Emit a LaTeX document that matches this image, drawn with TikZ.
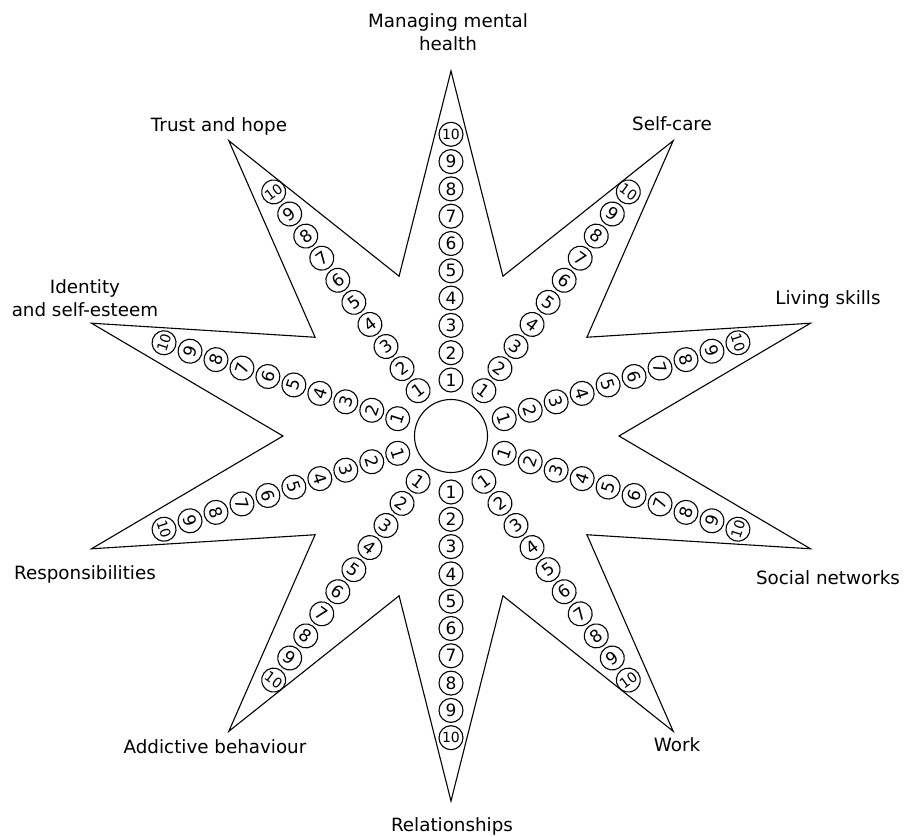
\documentclass[tikz,border=0pt]{standalone}
\usepackage{fontspec}
\setmainfont{DejaVu Sans}
\usetikzlibrary{positioning}

\tikzset{
  ring/.style={circle,draw,minimum size=24pt,inner sep=0pt,font=\fontsize{17}{17}\selectfont},
  armtext/.style={font=\fontsize{18.3}{23}\selectfont,align=center,inner sep=0pt}
}

\begin{document}
\begin{tikzpicture}[x=1pt,y=1pt,line width=1.1pt,line join=miter]
    \useasboundingbox (-451,-401) rectangle (453,436);

    % tips and dips of the star
    \foreach \i in {0,...,9} {
        \pgfmathsetmacro\ao{90-36*\i}
        \pgfmathsetmacro\ai{72-36*\i}
        \coordinate (tip\i) at ({378*cos(\ao)},{365*sin(\ao)});
        \coordinate (dip\i) at ({168*cos(\ai)},{168*sin(\ai)});
    }
    \draw (tip0) -- (dip0) -- (tip1) -- (dip1) -- (tip2) -- (dip2) -- (tip3) -- (dip3)
          -- (tip4) -- (dip4) -- (tip5) -- (dip5) -- (tip6) -- (dip6) -- (tip7) -- (dip7)
          -- (tip8) -- (dip8) -- (tip9) -- (dip9) -- cycle;

    \node[circle,draw,minimum size=73pt,inner sep=0pt] (hub) at (0,0) {};

    % numbered rings along each arm
    \foreach \i in {0,...,9} {
        \pgfmathsetmacro\ao{90-36*\i}
        \pgfmathsetmacro\rot{sin(\ao)>0 ? \ao-90 : \ao+90}
        \foreach \k in {1,...,10} {
            \node[ring,rotate=\rot] (r\i-\k) at (\ao:{56+27.3*(\k-1)})
                {\ifnum\k<10 \k\else{\fontsize{14}{14}\selectfont\k}\fi};
        }
    }

    \node[armtext] (mmh) at (-3,404) {Managing mental\\health};
    \node[armtext] (self) at (221,312) {Self-care};
    \node[armtext] (living) at (377,137) {Living skills};
    \node[armtext] (social) at (377,-142) {Social networks};
    \node[armtext] (work) at (226,-309) {Work};
    \node[armtext] (rel) at (1,-390) {Relationships};
    \node[armtext] (addict) at (-236,-311) {Addictive behaviour};
    \node[armtext] (resp) at (-366,-138) {Responsibilities};
    \node[armtext] (ident) at (-366,138) {Identity\\and self-esteem};
    \node[armtext] (trust) at (-232,310) {Trust and hope};
\end{tikzpicture}
\end{document}
